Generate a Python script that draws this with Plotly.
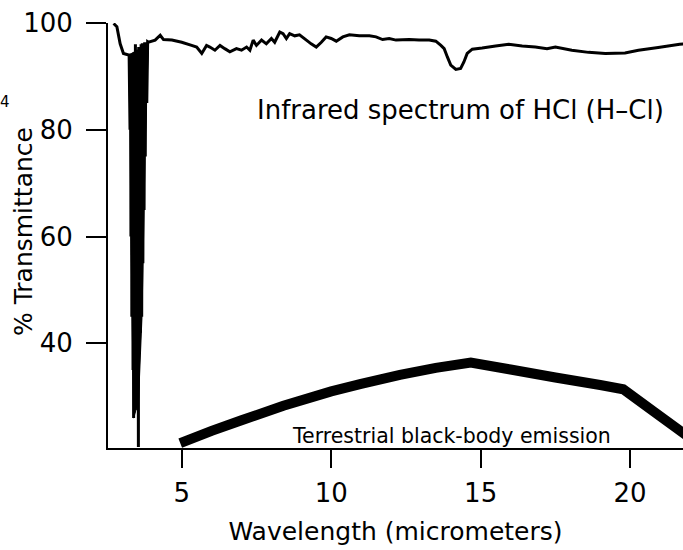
import plotly.graph_objects as go

# ---- IR spectrum of HCl (% transmittance vs wavelength, micrometers) ----
spec_x = [2.72, 2.83, 2.94, 3.05, 3.22,
          # absorption band (P/R branch lines)
          3.24, 3.27, 3.29, 3.30, 3.32, 3.33, 3.35, 3.37, 3.38, 3.39, 3.41, 3.43,
          3.45, 3.47, 3.49, 3.51, 3.53, 3.55, 3.56, 3.58, 3.60, 3.62, 3.64, 3.66,
          3.68, 3.70, 3.72, 3.74, 3.76, 3.78, 3.80, 3.83, 3.86,
          3.89, 4.11, 4.28, 4.39, 4.67, 5.00, 5.33, 5.50, 5.67, 5.83, 5.94, 6.11,
          6.28, 6.44, 6.61, 6.83, 7.00, 7.17, 7.28, 7.39, 7.50, 7.67, 7.83, 8.00,
          8.11, 8.28, 8.39, 8.50, 8.61, 8.78, 8.94, 9.17, 9.33, 9.50, 9.67, 9.83,
          10.00, 10.17, 10.39, 10.61, 10.94, 11.28, 11.50, 11.72, 11.94, 12.17,
          12.61, 12.94, 13.28, 13.50, 13.67, 13.78, 13.89, 14.00, 14.17, 14.33,
          14.44, 14.55, 14.72, 15.05, 15.50, 15.94, 16.39, 16.83, 17.22, 17.50,
          18.05, 18.61, 19.17, 19.83, 20.28, 20.94, 21.66, 22.00]
spec_y = [99.9, 99.3, 96.1, 94.3, 94.0,
          94.0, 80.0, 93.8, 60.0, 94.2, 45.0, 94.0, 35.0, 93.5, 26.0, 94.5, 28.0,
          96.0, 28.0, 94.5, 29.0, 95.0, 20.6, 95.5, 38.0, 95.5, 42.0, 96.0, 45.0,
          96.2, 55.0, 96.0, 65.0, 96.4, 75.0, 96.2, 85.0, 96.5,
          96.4, 96.8, 97.7, 96.9, 96.8, 96.4, 95.8, 95.5, 94.3, 95.8, 95.5, 94.9,
          95.8, 95.2, 94.6, 95.2, 94.9, 95.5, 94.9, 96.8, 95.8, 96.8, 96.1, 97.1,
          96.4, 98.3, 98.0, 97.1, 98.0, 97.6, 97.8, 96.8, 96.1, 95.5, 96.4, 97.4,
          97.1, 96.6, 97.4, 97.8, 97.6, 97.6, 97.4, 96.9, 97.1, 96.8,
          96.9, 96.8, 96.8, 96.6, 95.8, 95.2, 93.6, 92.1, 91.3, 91.5,
          92.7, 94.3, 95.1, 95.3, 95.7, 96.0, 95.7, 95.5, 95.2, 95.5,
          94.9, 94.5, 94.3, 94.4, 94.9, 95.4, 96.0, 96.2]

# envelope of the densely packed rotational lines of the 3.5 um band
band_env_x = [3.22, 3.27, 3.30, 3.34, 3.38, 3.39, 3.47, 3.53, 3.56, 3.62, 3.67,
              3.72, 3.78, 3.86, 3.89, 3.55, 3.22]
band_env_y = [94.0, 80.0, 60.0, 42.0, 30.0, 26.0, 27.5, 28.0, 30.0, 40.0, 45.0,
              59.0, 78.0, 92.0, 96.4, 95.0, 94.0]

# ---- Terrestrial black-body emission (arbitrary scale, plotted on same axes) ----
bb_x = [4.95, 6.0, 7.0, 8.4, 10.0, 11.0, 12.3, 13.5, 14.67, 16.0, 17.5, 19.0, 19.77, 20.8, 21.9]
bb_y = [21.3, 23.6, 25.6, 28.3, 31.0, 32.4, 34.1, 35.4, 36.4, 35.1, 33.6, 32.2, 31.4, 27.2, 22.7]

x_ticks = [5, 10, 15, 20]
y_ticks = [40, 60, 80, 100]

FONT = "DejaVu Sans"
L, T, PW, PH = 108, 23, 575, 425  # plot area in px


def px(xp):
    return (xp - L) / PW


def py(yp):
    return (T + PH - yp) / PH


fig = go.Figure()
fig.add_trace(go.Scatter(x=band_env_x, y=band_env_y, mode="lines", fill="toself",
                         fillcolor="black", line=dict(color="black", width=1),
                         hoverinfo="skip"))
fig.add_trace(go.Scatter(x=spec_x, y=spec_y, mode="lines",
                         line=dict(color="black", width=3, simplify=False), hoverinfo="skip"))
fig.add_trace(go.Scatter(x=bb_x, y=bb_y, mode="lines",
                         line=dict(color="black", width=10, simplify=False), hoverinfo="skip"))

fig.update_layout(
    width=683, height=550,
    margin=dict(l=L, r=0, t=T, b=550 - T - PH),
    paper_bgcolor="white", plot_bgcolor="white",
    showlegend=False,
    font=dict(family=FONT, color="black", size=26),
    xaxis=dict(range=[2.533, 21.77], tickvals=x_ticks, ticktext=[str(v) for v in x_ticks],
               showgrid=False, zeroline=False, showline=True, linecolor="black", linewidth=2,
               ticks="outside", ticklen=18, tickwidth=2, tickcolor="black",
               tickfont=dict(size=26), ticklabelstandoff=3,
               title=dict(text="Wavelength (micrometers)", font=dict(size=25), standoff=15)),
    yaxis=dict(range=[20.4, 100], tickvals=y_ticks, ticktext=[str(v) for v in y_ticks],
               showgrid=False, zeroline=False, showline=True, linecolor="black", linewidth=2,
               ticks="outside", ticklen=20, tickwidth=2, tickcolor="black",
               tickfont=dict(size=26), ticklabelstandoff=8),
    annotations=[
        dict(text="% Transmittance", xref="paper", yref="paper",
             x=px(23), y=py(232), xanchor="center", yanchor="middle", textangle=-90,
             showarrow=False, font=dict(size=25)),
        dict(text="Infrared spectrum of HCl (H–Cl)", xref="paper", yref="paper",
             x=px(460), y=py(110), xanchor="center", yanchor="middle",
             showarrow=False, font=dict(size=26)),
        dict(text="Terrestrial black-body emission", xref="paper", yref="paper",
             x=px(451), y=py(436), xanchor="center", yanchor="middle",
             showarrow=False, font=dict(size=20.5)),
        dict(text="4", xref="paper", yref="paper",
             x=px(-2), y=py(102), xanchor="left", yanchor="middle",
             showarrow=False, font=dict(size=15)),
    ],
)

fig.write_html("out.html")
